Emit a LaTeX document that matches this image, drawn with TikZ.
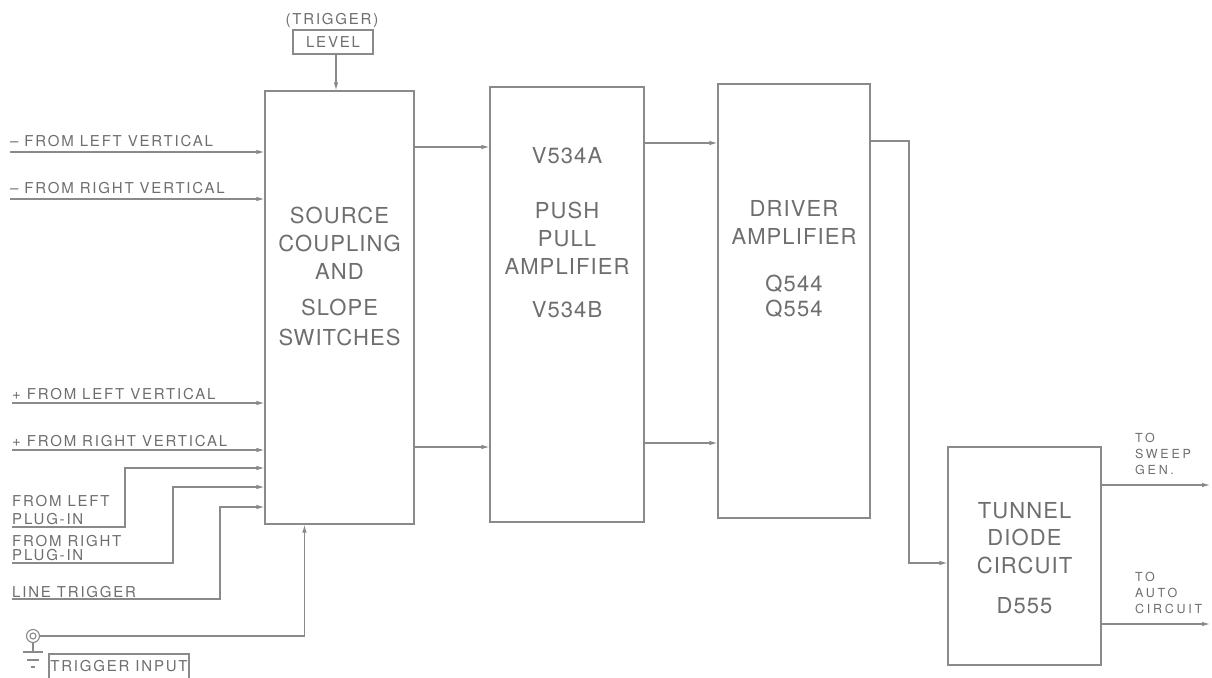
\documentclass[tikz,border=0pt]{standalone}
\usepackage{fontspec}
\usepackage{tikz}
\usetikzlibrary{arrows.meta,positioning,calc}
\newfontfamily\lblfont[LetterSpace=12]{TeX Gyre Heros}
\newfontfamily\sfont[LetterSpace=22]{TeX Gyre Heros}
\newfontfamily\boxfont[LetterSpace=5]{TeX Gyre Heros}
\definecolor{linec}{HTML}{8A8A8A}
\definecolor{textc}{HTML}{6E6E6E}
\tikzset{
  ar/.style={-{Latex[length=8pt,width=4.5pt]},line width=1.1pt,linec},
  ln/.style={line width=1.1pt,linec},
  box/.style={draw=linec,line width=1.1pt,rectangle,inner sep=0pt},
  btxt/.style={text=textc,align=center,inner sep=0pt,anchor=north,font=\boxfont\fontsize{22}{28}\selectfont},
  lbl/.style={text=textc,align=left,inner sep=0pt,font=\lblfont\fontsize{15}{18}\selectfont},
  slbl/.style={text=textc,align=left,inner sep=0pt,anchor=north west,font=\sfont\fontsize{12.5}{16}\selectfont}
}
\begin{document}
\begin{tikzpicture}[x=1pt,y=-1pt]
\useasboundingbox (0,0) rectangle (1212,677);
% blocks
\node[box,minimum width=149pt,minimum height=433pt] (src) at (339.5,307.5) {};
\node[box,minimum width=154pt,minimum height=435pt] (pp) at (567,304.5) {};
\node[box,minimum width=152pt,minimum height=434pt] (drv) at (794,301) {};
\node[box,minimum width=153pt,minimum height=218pt] (tun) at (1024.5,556) {};
\node[btxt] (srcT) at (src.center |- 0,207) {SOURCE\\COUPLING\\AND\\[8pt]SLOPE\\[2pt]SWITCHES};
\node[btxt] (ppT) at (pp.center |- 0,147) {V534A\\[27pt]PUSH\\PULL\\AMPLIFIER\\[15pt]V534B};
\node[btxt] (drvT) at (drv.center |- 0,200) {DRIVER\\AMPLIFIER\\[19pt]Q544\\[-3pt]Q554};
\node[btxt] (tunT) at (tun.center |- 0,502) {TUNNEL\\[-1pt]DIODE\\CIRCUIT\\[12pt]D555};
% trigger level
\node[lbl,anchor=base] (trg) at (332,25) {(TRIGGER)};
\node[lbl,draw=linec,line width=1.1pt,minimum width=80pt,minimum height=24pt] (lvl) at (333,42) {LEVEL};
\draw[ar] ([xshift=3pt]lvl.south) -- ([xshift=3pt]lvl.south |- src.north);
% vertical inputs
\node[lbl,anchor=base west] (lA) at (10,146) {– FROM LEFT VERTICAL};
\node[lbl,anchor=base west] (lB) at (10,193) {– FROM RIGHT VERTICAL};
\node[lbl,anchor=base west] (lC) at (12,399) {+ FROM LEFT VERTICAL};
\node[lbl,anchor=base west] (lD) at (12,446) {+ FROM RIGHT VERTICAL};
\coordinate (i1) at (10,152);
\coordinate (i2) at (10,199);
\coordinate (i3) at (12,403);
\coordinate (i4) at (12,450);
\foreach \c in {i1,i2,i3,i4}
  \draw[ar] (\c) -- (\c -| src.west);
% plug-ins and line trigger
\node[lbl,anchor=north west] (lE) at (12,495) {FROM LEFT\\PLUG-IN};
\node[lbl,anchor=north west,font=\lblfont\fontsize{15}{14}\selectfont] (lF) at (12,535) {FROM RIGHT\\PLUG-IN};
\node[lbl,anchor=base west] (lG) at (12,597) {LINE TRIGGER};
\coordinate (p1) at (12,527);
\coordinate (p2) at (12,563);
\coordinate (p3) at (12,599);
\draw[ar] (p1) -| (125,468) -- (src.west |- 0,468);
\draw[ar] (p2) -| (173,487) -- (src.west |- 0,487);
\draw[ar] (p3) -| (220,507) -- (src.west |- 0,507);
% trigger input jack
\node[circle,draw=linec,line width=1.1pt,minimum size=13pt,inner sep=0pt] (jack) at (33,636) {};
\draw[ln] (jack) circle (3pt);
\draw[ln] (jack.south) -- (33,652);
\draw[ln] (23,652) -- (43,652) (27,660) -- (39,660) (31,667) -- (35,667);
\draw[ar] (jack.east) -| ([xshift=40pt]src.south west);
\node[lbl,draw=linec,line width=1.1pt,minimum width=140pt,minimum height=25pt] (tin) at (119,666.5) {TRIGGER INPUT};
% amplifier chain
\draw[ar] (src.east |- 0,147) -- (pp.west |- 0,147);
\draw[ar] (src.east |- 0,447) -- (pp.west |- 0,447);
\draw[ar] (pp.east |- 0,143) -- (drv.west |- 0,143);
\draw[ar] (pp.east |- 0,443) -- (drv.west |- 0,443);
\draw[ar] (drv.east |- 0,141) -| (909,563) -- (tun.west |- 0,563);
% outputs
\coordinate (o1) at (1210,485);
\coordinate (o2) at (1210,624);
\draw[ar] (tun.east |- o1) -- (o1);
\draw[ar] (tun.east |- o2) -- (o2);
\node[slbl] (tS) at (1135,433) {TO\\SWEEP\\GEN.};
\node[slbl] (tA) at (1135,572) {TO\\AUTO\\CIRCUIT};
\end{tikzpicture}
\end{document}
